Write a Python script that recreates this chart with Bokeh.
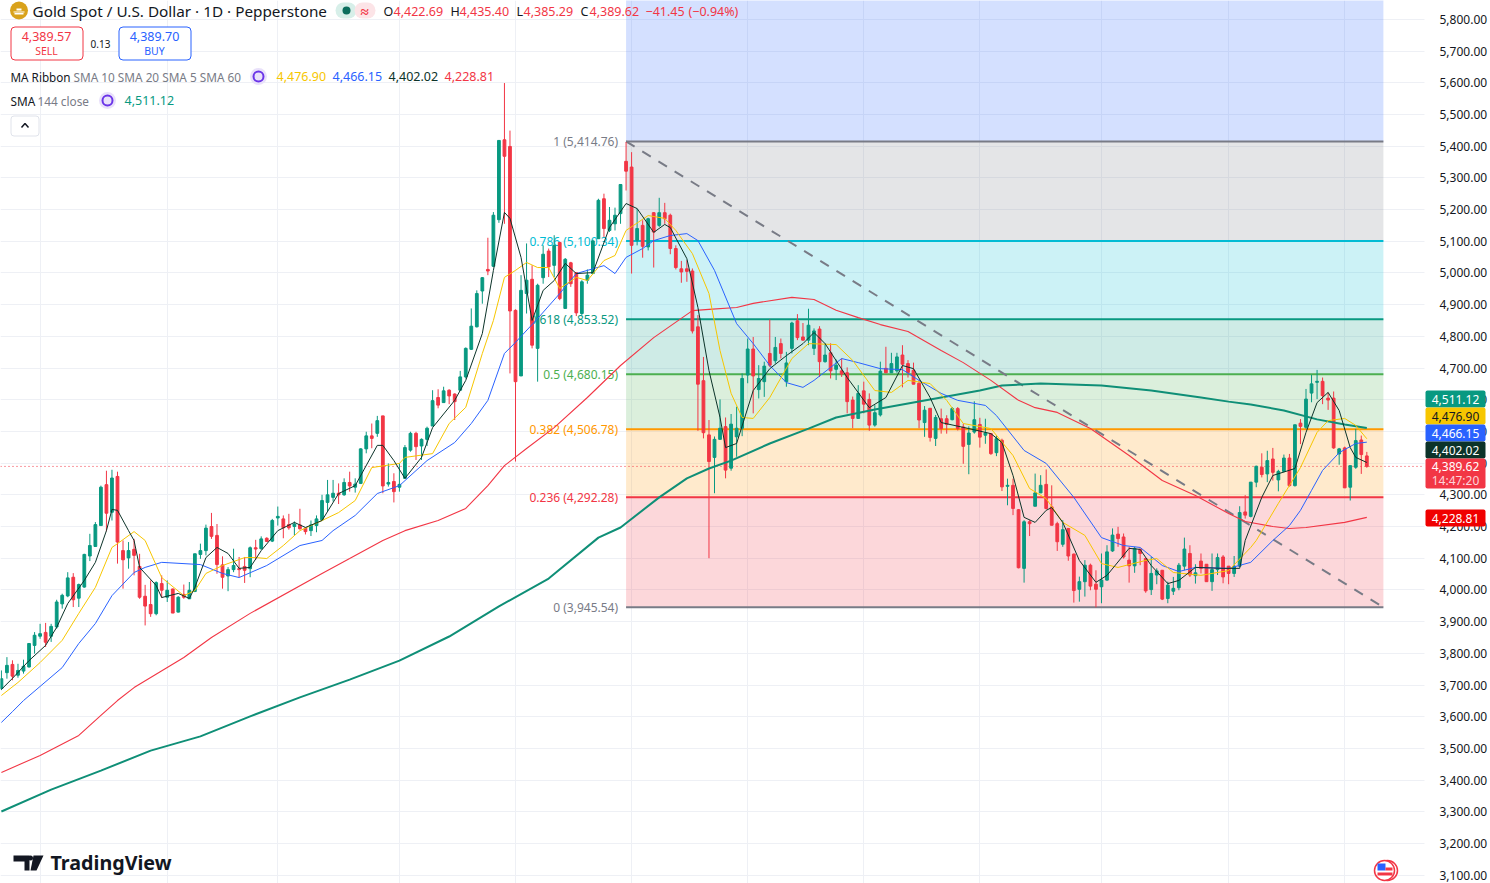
from bokeh.plotting import figure
from bokeh.models import (ColumnDataSource, FixedTicker, NumeralTickFormatter, Label, BoxAnnotation)
from bokeh.core.properties import value
from bokeh.embed import file_html
from bokeh.resources import INLINE

opens = [3689,3739,3765,3731,3744,3757,3825,3854,3866,3854,
3883,3956,3981,4040,3974,4009,4107,4137,4203,4332,
4245,4358,4124,4101,4128,4074,3980,3954,3925,4020,
3977,4003,3930,3986,3972,3995,4112,4124,4200,4172,
4079,4044,4064,4067,4074,4067,4133,4130,4163,4154,
4227,4224,4206,4200,4205,4195,4187,4203,4221,4276,
4292,4305,4300,4339,4324,4336,4445,4486,4494,4549,
4334,4342,4324,4352,4441,4494,4454,4475,4517,4607,
4591,4630,4618,4630,4672,4759,4830,4943,5011,5021,
5168,5420,5399,4882,4675,4935,4980,4762,4985,5069,
5024,5096,4888,5032,5001,4872,4977,4998,5108,5234,
5134,5155,5187,5352,5334,5103,5150,5082,5190,5150,
5190,5182,5077,5013,5013,5006,4830,4660,4489,4418,
4475,4515,4384,4483,4510,4678,4760,4632,4657,4746,
4723,4777,4657,4762,4849,4798,4788,4762,4823,4720,
4748,4696,4691,4685,4599,4541,4628,4601,4520,4552,
4699,4685,4691,4741,4714,4693,4652,4528,4573,4478,
4540,4540,4537,4572,4514,4459,4498,4522,4488,4493,
4433,4472,4327,4330,4253,4068,4215,4264,4306,4333,
4262,4209,4144,4194,4113,4002,4026,4078,4018,4010,
4031,4123,4176,4167,4094,4076,4128,4099,4001,4047,
4062,3973,3996,4007,4075,4115,4045,4091,4081,4026,
4064,4104,4075,4052,4075,4246,4232,4340,4387,4366,
4413,4347,4374,4416,4329,4526,4513,4621,4655,4658,
4605,4605,4429,4448,4324,4387,4473,4422.69]
highs = [3746,3788,3778,3767,3780,3831,3867,3893,3896,3893,
3969,3988,4056,4053,4020,4114,4177,4214,4329,4376,
4379,4373,4156,4151,4161,4114,4016,4030,4027,4046,
4030,4004,3980,4017,4025,4114,4146,4206,4243,4208,
4106,4072,4130,4104,4104,4137,4158,4169,4166,4224,
4263,4235,4240,4216,4256,4196,4219,4235,4300,4347,
4347,4336,4352,4373,4352,4447,4499,4525,4549,4549,
4399,4368,4399,4457,4499,4499,4478,4515,4630,4633,
4641,4633,4620,4691,4765,4888,4945,4987,5111,5192,
5418,5599,5449,4885,4993,5093,5024,4966,5087,5077,
5119,5098,5047,5035,5003,4977,5011,5105,5234,5250,
5208,5206,5279,5413,5381,5203,5166,5174,5192,5237,
5221,5187,5087,5038,5040,5014,4867,4735,4536,4484,
4601,4544,4555,4578,4683,4793,4798,4709,4720,4853,
4798,4793,4751,4846,4870,4842,4887,4825,4832,4778,
4778,4727,4730,4702,4610,4646,4657,4620,4583,4720,
4767,4748,4748,4772,4725,4717,4662,4580,4573,4552,
4572,4551,4577,4577,4524,4516,4595,4543,4540,4495,
4488,4477,4351,4351,4255,4220,4220,4367,4362,4380,
4330,4215,4220,4194,4115,4042,4094,4083,4062,4115,
4141,4194,4199,4178,4136,4136,4131,4099,4104,4068,
4062,4026,4041,4085,4165,4141,4081,4115,4081,4115,
4115,4110,4075,4107,4264,4299,4340,4392,4431,4439,
4448,4379,4427,4429,4521,4539,4634,4679,4694,4670,
4623,4626,4448,4452,4392,4508,4487,4435.40]
lows = [3684,3720,3715,3723,3736,3755,3799,3846,3820,3836,
3878,3941,3977,3946,3946,4007,4091,4137,4203,4185,
4219,4083,4004,4067,4046,3972,3888,3915,3920,3975,
3962,3927,3929,3972,3972,3993,4098,4109,4161,4051,
4004,3996,4056,4040,4022,4040,4095,4127,4151,4151,
4203,4163,4190,4172,4190,4175,4170,4182,4221,4247,
4279,4271,4297,4310,4307,4334,4431,4447,4483,4305,
4326,4276,4310,4352,4436,4410,4410,4454,4517,4573,
4591,4586,4536,4630,4667,4757,4828,4903,4993,5019,
5158,5155,4683,4405,4675,4872,4762,4657,4966,4987,
4987,4914,4888,4956,4864,4867,4966,4998,5108,5113,
5129,5134,5155,5260,4998,5087,5048,5071,5017,5145,
5155,5059,5011,4969,4972,4809,4502,4478,4100,4305,
4475,4352,4376,4420,4485,4652,4557,4604,4609,4703,
4714,4730,4641,4746,4788,4786,4772,4741,4672,4717,
4667,4662,4672,4557,4510,4541,4557,4502,4515,4547,
4685,4685,4685,4639,4670,4649,4510,4483,4468,4454,
4493,4493,4535,4503,4398,4365,4493,4449,4461,4426,
4422,4312,4267,4236,4068,4023,4170,4264,4306,4254,
4204,4123,4136,4092,3960,3963,3979,3999,3945,3958,
4029,4120,4136,4099,4023,4054,4078,3991,3984,4018,
3968,3958,3984,3999,4062,4041,4020,4052,4026,3997,
4047,4021,4018,4041,4073,4225,4229,4324,4355,4340,
4345,4311,4371,4326,4326,4460,4508,4592,4602,4586,
4568,4445,4395,4322,4282,4382,4366,4385.29]
closes = [3720,3762,3728,3746,3759,3831,3857,3862,3835,3885,
3962,3983,4038,3969,4017,4112,4140,4206,4324,4242,
4353,4151,4095,4124,4109,3977,3949,3925,4023,3999,
3999,3927,3977,3977,3999,4114,4124,4195,4169,4080,
4040,4064,4077,4064,4062,4133,4129,4161,4153,4219,
4232,4196,4196,4208,4193,4184,4205,4224,4282,4300,
4305,4300,4339,4328,4334,4445,4486,4478,4534,4328,
4339,4310,4333,4449,4494,4452,4475,4510,4597,4583,
4628,4612,4594,4672,4762,4832,4935,4985,5006,5182,
5418,5368,4880,4657,4945,4977,4772,4961,5059,5019,
5087,4919,5043,4966,4874,4972,4993,5101,5229,5140,
5166,5182,5279,5321,5087,5140,5084,5171,5129,5190,
5171,5077,5017,5003,5005,4817,4649,4496,4405,4475,
4510,4378,4523,4510,4667,4760,4675,4667,4706,4709,
4765,4746,4716,4842,4796,4788,4835,4817,4720,4741,
4691,4709,4681,4594,4541,4620,4586,4520,4559,4690,
4685,4714,4735,4712,4686,4649,4536,4567,4481,4544,
4509,4522,4572,4509,4453,4495,4537,4482,4495,4430,
4477,4325,4330,4257,4070,4215,4209,4306,4330,4257,
4204,4152,4190,4107,3998,4026,4078,4012,4002,4031,
4120,4173,4162,4104,4076,4131,4115,3997,4052,4060,
3971,4015,4005,4078,4129,4047,4054,4068,4026,4064,
4102,4041,4052,4075,4244,4236,4340,4390,4364,4408,
4371,4374,4416,4329,4521,4516,4602,4650,4658,4613,
4599,4448,4445,4322,4392,4471,4427,4389.62]

sma5_idx = [0,2,5,8,10,12,15,17,19,20,21,23,24,25,28,29,32,34,35,37,39,41,43,45,47,50,53,55,58,61,64,68,69,71,73,76,78,82,84,87,89,91,92,94,96,98,100,102,104,107,110,113,115,118,120,121,124,126,128,130,131,133,136,139,142,145,147,149,153,157,160,163,165,168,170,175,179,181,183,185,187,189,190,192,195,198,200,204,206,208,211,213,216,221,224,225,228,230,234,236,238,240,242,244,245,247]
sma5 = [3686,3721,3777,3825,3882,3957,4030,4087,4187,4254,4251,4187,4156,4071,4014,3976,3989,3973,4008,4102,4134,4115,4068,4071,4124,4187,4213,4197,4219,4304,4329,4456,4456,4408,4352,4418,4512,4598,4661,4809,5008,5191,5172,5049,4850,4945,4976,5030,4998,5001,5143,5219,5203,5128,5153,5143,5045,4891,4692,4544,4449,4462,4629,4698,4739,4777,4812,4777,4670,4575,4607,4708,4698,4607,4528,4509,4493,4465,4361,4229,4213,4251,4260,4213,4093,4024,4046,4131,4128,4077,4020,4030,4071,4068,4068,4156,4292,4361,4383,4497,4591,4623,4566,4449,4418,4402.02]
sma10_idx = [0,3,7,11,14,17,20,21,24,26,29,33,35,37,40,44,46,48,51,54,58,61,64,67,72,73,78,81,84,87,89,91,93,95,97,99,101,104,106,109,111,113,117,120,122,125,128,130,132,134,136,139,143,146,151,154,158,161,164,168,171,174,179,183,186,189,192,196,199,202,207,209,212,217,222,226,227,231,235,238,240,243,245,247]
sma10 = [3667,3708,3771,3841,3926,4008,4134,4146,4184,4156,4039,3982,3998,4052,4077,4102,4102,4099,4140,4187,4219,4244,4282,4386,4399,4418,4430,4525,4576,4746,4850,4986,5008,5033,5017,5017,4951,4986,4976,5039,5055,5134,5181,5172,5134,5061,4935,4755,4620,4544,4541,4607,4730,4777,4774,4724,4629,4623,4661,4651,4598,4525,4509,4424,4320,4288,4213,4172,4083,4071,4093,4099,4055,4046,4061,4134,4156,4273,4386,4497,4534,4541,4519,4476.90]
sma20_idx = [0,2,4,11,14,17,20,24,26,29,36,40,43,48,54,58,60,64,68,72,77,82,85,88,91,93,97,101,104,109,111,113,116,118,121,124,126,129,133,136,139,142,145,147,150,152,155,159,163,166,170,173,178,180,185,189,194,199,203,206,210,213,216,222,226,230,233,235,237,239,242,245,247]
sma20 = [3582,3616,3651,3755,3831,3894,3982,4055,4071,4087,4080,4052,4039,4077,4140,4156,4187,4235,4304,4329,4408,4465,4525,4598,4746,4781,4856,4935,4998,5023,4998,5049,5077,5102,5118,5124,5102,5008,4840,4777,4708,4654,4639,4661,4702,4730,4717,4698,4695,4661,4620,4598,4582,4550,4440,4399,4292,4165,4140,4134,4077,4058,4071,4068,4087,4156,4203,4251,4314,4377,4433,4462,4466.15]
sma60_idx = [0,7,14,18,21,24,33,38,45,58,63,69,73,79,84,88,91,95,100,106,112,118,125,128,133,136,143,147,151,155,159,164,170,174,179,184,187,191,197,204,210,216,222,225,230,233,236,243,247]
sma60 = [3424,3478,3541,3604,3651,3692,3787,3850,3926,4052,4099,4156,4187,4219,4257,4329,4392,4446,4512,4607,4708,4796,4881,4885,4891,4904,4923,4916,4882,4859,4837,4815,4755,4717,4661,4598,4575,4560,4509,4424,4345,4298,4241,4216,4200,4194,4197,4213,4228.81]
sma144_idx = [0,9,18,27,36,45,54,63,72,81,90,99,108,112,119,124,128,132,139,146,151,158,170,177,181,188,199,208,217,222,226,232,238,243,247]
sma144 = [3301,3370,3430,3493,3538,3601,3661,3717,3777,3853,3948,4036,4165,4197,4292,4352,4383,4408,4462,4509,4544,4569,4607,4629,4645,4651,4645,4629,4607,4594,4585,4566,4538,4522,4511.12]

fib_ratio = [1, 0.786, 0.618, 0.5, 0.382, 0.236, 0]
fib_price = [5414.76, 5100.34, 4853.52, 4680.15, 4506.78, 4292.28, 3945.54]
fib_color = ["#787b86", "#00bcd4", "#089981", "#4caf50", "#ff9800", "#f23645", "#787b86"]
fib_start, fib_end = 113, 250
last_price = 4389.62
grid_idx = [7, 30, 50, 72, 93, 114, 135, 156, 177, 199, 222, 243]
price_ticks = list(range(3100, 5900, 100))

GREEN, RED = "#089981", "#f23645"
FONT = "Noto Sans"
INK = "#131722"
GREY = "#787b86"

PX = 5.528
X0 = 0.9
def dx(px): return (px - X0) / PX
def dy(py): return 5859.4 - 3.1546 * py

p = figure(width=1490, height=883, output_backend="svg", toolbar_location=None,
           x_range=(dx(0), dx(1490)), y_range=(dy(883), dy(0)), y_axis_location="right",
           min_border_left=0, min_border_top=0, min_border_bottom=0, min_border_right=0,
           outline_line_color=None, background_fill_color="white", border_fill_color="white")
p.xaxis.visible = False
p.xgrid.ticker = FixedTicker(ticks=grid_idx)
p.xgrid.grid_line_color = "#eef0f5"
p.ygrid.ticker = FixedTicker(ticks=price_ticks)
p.ygrid.grid_line_color = "#eef0f5"
ya = p.yaxis[0]
ya.fixed_location = dx(1424)
ya.ticker = FixedTicker(ticks=price_ticks)
ya.formatter = NumeralTickFormatter(format="0,0.00")
ya.axis_line_color = None
ya.major_tick_line_color = None
ya.minor_tick_line_color = None
ya.major_label_text_font = FONT
ya.major_label_text_font_size = "12px"
ya.major_label_text_color = INK
ya.major_label_standoff = 9

# the price scale strip stays clear of the grid
p.quad(left=[dx(1424)], right=[dx(1490)], top=[dy(0)], bottom=[dy(883)], fill_color="white", line_color=None)

# Fibonacci zones
tops = [6322.7] + fib_price[:-1]
fills = ["#2962ff"] + fib_color[:-1]
p.quad(left=[fib_start]*7, right=[fib_end]*7, top=tops, bottom=fib_price,
       fill_color=fills, fill_alpha=0.2, line_color=None)
p.segment(x0=[fib_start]*7, x1=[fib_end]*7, y0=fib_price, y1=fib_price, line_color=fib_color, line_width=2)
p.line([fib_start, fib_end], [fib_price[0], fib_price[-1]], line_color=GREY, line_width=2, line_dash="10 9")
for r, pr, c in zip(fib_ratio, fib_price, fib_color):
    p.text(x=[fib_start], y=[pr], text=[f"{r} ({pr:,.2f})"], text_color=c, text_font=value(FONT),
           text_font_size="12px", text_align="right", text_baseline="middle", x_offset=-8)

# last price dotted line
p.line([dx(0), dx(1424)], [last_price]*2, line_color=RED, line_width=1, line_dash="1 3")

# candles
idx = list(range(len(opens)))
cols = [GREEN if c >= o else RED for o, c in zip(opens, closes)]
src = ColumnDataSource(dict(x=idx, o=opens, h=highs, l=lows, c=closes, col=cols,
                            top=[max(a, b) for a, b in zip(opens, closes)],
                            bot=[min(a, b) for a, b in zip(opens, closes)]))
p.segment(x0="x", x1="x", y0="l", y1="h", line_color="col", line_width=1, source=src)
p.vbar(x="x", width=0.5, top="top", bottom="bot", fill_color="col", line_color="col", line_width=1, source=src)

# moving averages
p.line(sma144_idx, sma144, line_color="#0f8f77", line_width=2)
p.line(sma60_idx, sma60, line_color=RED, line_width=1.1)
p.line(sma20_idx, sma20, line_color="#2962ff", line_width=1)
p.line(sma10_idx, sma10, line_color="#f7c600", line_width=1)
p.line(sma5_idx, sma5, line_color="#0c3329", line_width=1)

def T(text, x, y, color=INK, size=12, align="left", style="normal", font=FONT):
    p.add_layout(Label(x=x, x_units="screen", y=dy(y), text=text, text_color=color, text_font=font,
                       text_font_size=f"{size}px", text_align=align, text_baseline="middle",
                       text_font_style=style))

# header
p.scatter([dx(18.5)], [dy(10)], size=18, marker="circle", fill_color="#d9a21b", line_color=None)
p.quad(left=[dx(13), dx(16), dx(14)], right=[dx(24), dx(21), dx(23)], top=[dy(11), dy(8), dy(12.5)],
       bottom=[dy(12), dy(10), dy(14)], fill_color="white", line_color=None)
T("Gold Spot / U.S. Dollar · 1D · Pepperstone", 32, 10, size=15.3)
p.add_layout(BoxAnnotation(left=dx(335), right=dx(356), top=dy(2), bottom=dy(18), fill_color="#d7efe9", fill_alpha=1, line_color=None, border_radius=8))
p.add_layout(BoxAnnotation(left=dx(354), right=dx(375), top=dy(2), bottom=dy(18), fill_color="#fce4e7", fill_alpha=1, line_color=None, border_radius=8))
p.scatter([dx(346)], [dy(10)], size=8, marker="circle", fill_color="#0b6e5d", line_color=None, level="overlay")
T("≈", 364, 10, RED, 15, "center", "bold")
for t, x, c in [("O", 383, INK), ("4,422.69", 393, RED), ("H", 450, INK), ("4,435.40", 459, RED),
                ("L", 516, INK), ("4,385.29", 523, RED), ("C", 580, INK), ("4,389.62", 589, RED),
                ("−41.45", 645, RED), ("(−0.94%)", 688, RED)]:
    T(t, x, 11, c, 12.5)

# sell / buy
p.add_layout(BoxAnnotation(left=dx(10.5), right=dx(82.5), top=dy(26.5), bottom=dy(59.5), fill_color="white", fill_alpha=1, line_color=RED, line_alpha=1, line_width=1, border_radius=4))
p.add_layout(BoxAnnotation(left=dx(118.5), right=dx(190.5), top=dy(26.5), bottom=dy(59.5), fill_color="white", fill_alpha=1, line_color="#2962ff", line_alpha=1, line_width=1, border_radius=4))
T("4,389.57", 46, 36, RED, 12.5, "center")
T("SELL", 46, 50, RED, 10.5, "center")
T("0.13", 100, 43, INK, 10, "center")
T("4,389.70", 154, 36, "#2962ff", 12.5, "center")
T("BUY", 154, 50, "#2962ff", 10.5, "center")

# indicators
def icon(x, y):
    p.scatter([dx(x)], [dy(y)], size=17, marker="circle", fill_color="#e9e1fa", line_color=None)
    p.scatter([dx(x)], [dy(y)], size=10, marker="circle", fill_color=None, line_color="#6b35e8", line_width=2)
T("MA Ribbon", 10, 76, INK, 11.7)
T("SMA 10 SMA 20 SMA 5 SMA 60", 73, 76, GREY, 11.8)
icon(258, 76)
T("4,476.90", 276, 76, "#f7c600", 12.5)
T("4,466.15", 332, 76, "#2962ff", 12.5)
T("4,402.02", 388, 76, "#0c3329", 12.5)
T("4,228.81", 444, 76, RED, 12.5)
T("SMA", 10, 100, INK, 11.8)
T("144 close", 37, 100, GREY, 11.8)
icon(107, 100)
T("4,511.12", 124, 100, GREEN, 12.5)
p.add_layout(BoxAnnotation(left=dx(10.5), right=dx(38.5), top=dy(115.5), bottom=dy(135.5), fill_color="white", fill_alpha=1, line_color="#e0e3eb", line_alpha=1, line_width=1, border_radius=3))
p.line([dx(21), dx(24.5), dx(28)], [dy(127), dy(123), dy(127)], line_color=INK, line_width=1.5, level="overlay")

# price tags on the scale
for top, bot, bg in [(390, 407, GREEN), (407, 424, "#f7c600"), (424, 441, "#2962ff"),
                     (441, 458, "#0c3329"), (458, 488, RED), (509, 526, "#f00000")]:
    p.add_layout(BoxAnnotation(left=dx(1425), right=dx(1485), top=dy(top), bottom=dy(bot), fill_color=bg,
                               fill_alpha=1, line_color=None, border_radius=2))
for txt, y, fg in [("4,511.12", 398.5, "white"), ("4,476.90", 415.5, INK),
                   ("4,466.15", 432.5, "white"), ("4,402.02", 449.5, "white"),
                   ("4,389.62", 466, "white"), ("14:47:20", 480, "#fdd5da"),
                   ("4,228.81", 517.5, "white")]:
    T(txt, 1455, y, fg, 12, "center")

# logo
p.patches(xs=[[dx(13), dx(29), dx(29), dx(24), dx(24), dx(13)],
              [dx(33), dx(43), dx(36), dx(30)]],
          ys=[[dy(855), dy(855), dy(870), dy(870), dy(861), dy(861)],
              [dy(855), dy(855), dy(870), dy(870)]],
          fill_color=INK, line_color=None)
p.scatter([dx(30)], [dy(857.5)], size=5, marker="circle", fill_color=INK, line_color=None)
T("TradingView", 50, 862, INK, 19.7, style="bold")

# flag badge
p.scatter([dx(1387)], [dy(870)], size=20, marker="circle", fill_color="white", line_color=RED, line_width=1.5)
p.scatter([dx(1384)], [dy(870)], size=20, marker="circle", fill_color="white", line_color=RED, line_width=1.5)
p.quad(left=[dx(1377)], right=[dx(1385)], top=[dy(863)], bottom=[dy(870)], fill_color="#2962ff", line_color=None)
p.quad(left=[dx(1377), dx(1385)], right=[dx(1392), dx(1392)], top=[dy(872), dy(867)], bottom=[dy(875), dy(870)], fill_color=RED, line_color=None)

open("out.html", "w").write(file_html(p, INLINE))
